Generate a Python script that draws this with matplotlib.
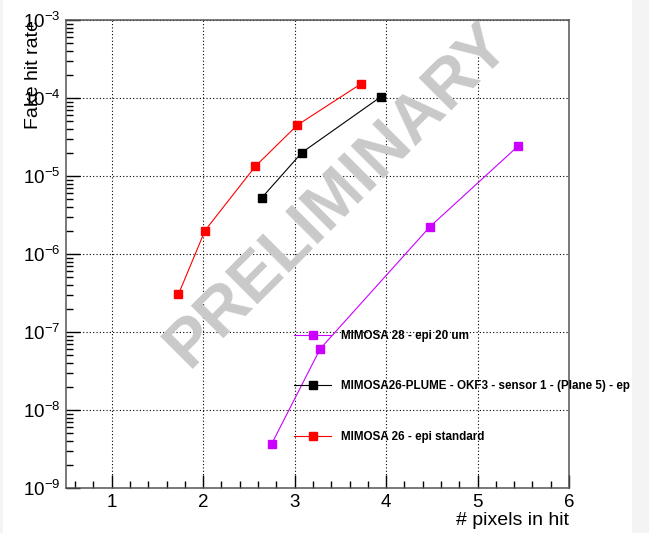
import matplotlib
matplotlib.use("Agg")
import matplotlib.pyplot as plt
from matplotlib.ticker import LogLocator, MultipleLocator, FixedLocator, NullFormatter
from matplotlib.patches import Rectangle

plt.rcParams['font.family'] = ['Liberation Sans', 'DejaVu Sans']
plt.rcParams['mathtext.fontset'] = 'custom'
plt.rcParams['mathtext.rm'] = 'Liberation Sans'
plt.rcParams['mathtext.it'] = 'Liberation Sans:italic'
plt.rcParams['mathtext.bf'] = 'Liberation Sans:bold'

# ---- data ----
m28_label = "MIMOSA 28 - epi 20 um"
m28_x = [2.75, 3.28, 4.48, 5.44]
m28_y = [3.7e-9, 6.1e-8, 2.24e-6, 2.4e-5]

plume_label = "MIMOSA26-PLUME - OKF3 - sensor 1 - (Plane 5) - ep"
plume_x = [2.64, 3.08, 3.94]
plume_y = [5.25e-6, 2.0e-5, 1.03e-4]

m26_label = "MIMOSA 26 - epi standard"
m26_x = [1.73, 2.02, 2.57, 3.03, 3.73]
m26_y = [3.05e-7, 2.0e-6, 1.33e-5, 4.5e-5, 1.53e-4]

x_ticks = [1, 2, 3, 4, 5, 6]
x_label = "# pixels in hit"
y_label = "Fake hit rate"
watermark = "PRELIMINARY"

W, H = 649, 533
fig = plt.figure(figsize=(W / 100, H / 100), dpi=100)
fig.patch.set_facecolor('white')
fig.patches.append(Rectangle((632 / W, 0), 1 - 632 / W, 1, transform=fig.transFigure,
                             facecolor='#f4f4f4', edgecolor='none', zorder=0))
fig.patches.append(Rectangle((0, 0), 3 / W, 1, transform=fig.transFigure,
                             facecolor='#f4f4f4', edgecolor='none', zorder=0))

ax = fig.add_axes([66 / W, 1 - 488 / H, (569 - 66) / W, (488 - 20) / H])
ax.set_yscale('log')
ax.set_xlim(0.5, 6)
ax.set_ylim(1e-9, 1e-3)

ax.xaxis.set_major_locator(FixedLocator(x_ticks))
ax.xaxis.set_minor_locator(MultipleLocator(0.2))
ax.yaxis.set_major_locator(LogLocator(base=10, numticks=20))
ax.yaxis.set_minor_locator(LogLocator(base=10, subs=range(2, 10), numticks=20))
ax.yaxis.set_minor_formatter(NullFormatter())

ax.tick_params(axis='both', which='both', direction='in', colors='black',
               top=False, right=False, labelsize=13.5)
ax.tick_params(axis='y', which='major', length=10, width=1, pad=4)
ax.tick_params(axis='y', which='minor', length=5, width=1)
ax.tick_params(axis='x', which='major', length=9.5, width=1, pad=4)
ax.tick_params(axis='x', which='minor', length=5, width=1)

for s in ax.spines.values():
    s.set_linewidth(1.1)
    s.set_color('#555555')

ax.grid(True, which='major', linestyle=(0, (1, 2)), color='black', linewidth=0.8)
ax.set_axisbelow(True)

ax.text(0.54, 0.625, watermark, transform=ax.transAxes, rotation=45,
        rotation_mode='anchor', ha='center', va='center', fontsize=48,
        fontweight='bold', color='#c9c9c9', zorder=1.5)

lw = 0.8
ms = 5.2
ax.plot(m28_x, m28_y, '-s', color='#cc00ff', lw=lw, ms=ms, mec='#cc00ff',
        label=m28_label, zorder=3)
ax.plot(plume_x, plume_y, '-s', color='black', lw=lw, ms=ms, label=plume_label, zorder=3)
ax.plot(m26_x, m26_y, '-s', color='#ff0000', lw=lw, ms=ms, mec='#ff0000',
        label=m26_label, zorder=3)

leg = ax.legend(loc='upper left', bbox_to_anchor=(294 / W, 1 - 330 / H),
                bbox_transform=fig.transFigure, frameon=False, borderpad=0,
                borderaxespad=0, handlelength=3.2, handletextpad=0.85,
                labelspacing=3.3, prop={'size': 8.4, 'weight': 'bold'})
for t in leg.get_texts():
    t.set_clip_on(False)

ax.set_xlabel(x_label, fontsize=14, loc='right')
ax.xaxis.set_label_coords(1.0, -0.052)
ax.set_ylabel(y_label, fontsize=14, loc='top')
ax.yaxis.set_label_coords(-0.048, 1.0)

fig.savefig('out.png', dpi=100)
